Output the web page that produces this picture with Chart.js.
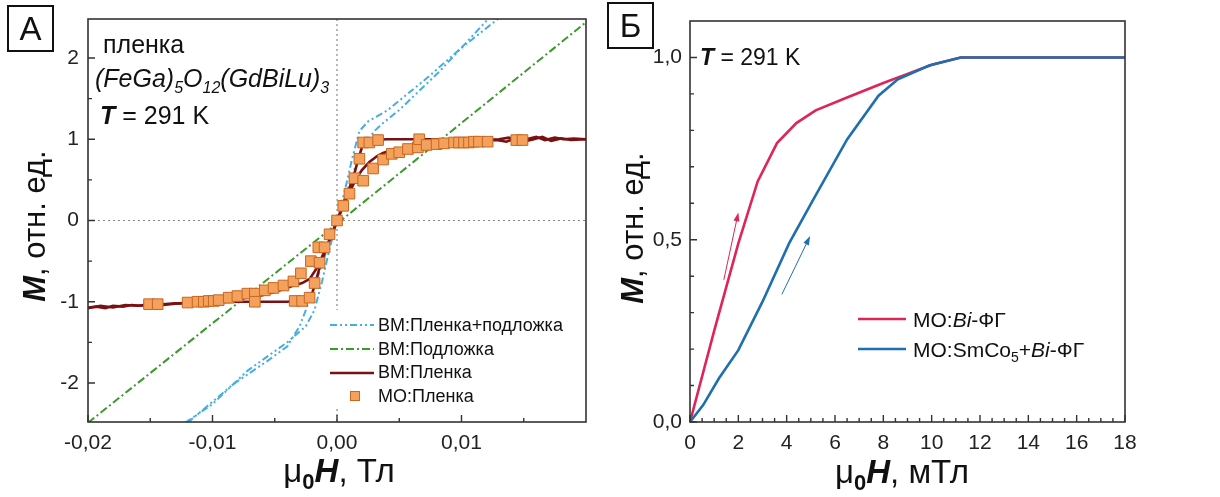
<!DOCTYPE html>
<html>
<head>
<meta charset="utf-8">
<script src="https://cdn.jsdelivr.net/npm/chart.js@4.4.1/dist/chart.umd.min.js"></script>
<style>
  html, body { margin: 0; padding: 0; background: #fff; }
  #wrap { position: relative; width: 1220px; height: 497px; }
  #chartA { position: absolute; left: 0; top: 0; }
  #chartB { position: absolute; left: 605px; top: 0; }
</style>
</head>
<body>
<div id="wrap">
  <canvas id="chartA" width="605" height="497"></canvas>
  <canvas id="chartB" width="615" height="497"></canvas>
</div>
<script>
const SANS = '"Liberation Sans", Arial, Helvetica, sans-serif';
const f = (size, style = '') => `${style} ${size}px ${SANS}`.trim();

// ---- panel A: hysteresis, field in T ----
const aTicksX = [-0.02, -0.01, 0, 0.01];
const aMinorX = [-0.015, -0.005, 0.005, 0.015];
const aTicksY = [-2, -1, 0, 1, 2];
const aMinorY = [-1.5, -0.5, 0.5, 1.5];

// film + substrate (VSM), two branches
const hFilmSub1 = [-0.0122, -0.01, -0.0072, -0.004, -0.0025, -0.0018, -0.0012, -0.0006, 0, 0.0006, 0.0012, 0.0018, 0.0025, 0.004, 0.0072, 0.0098, 0.013];
const mFilmSub1 = [-2.49, -2.26, -1.85, -1.5, -1.3, -1.1, -0.75, -0.35, 0, 0.35, 0.75, 1.1, 1.22, 1.35, 1.75, 2.1, 2.49];
const hFilmSub2 = [-0.012, -0.0083, -0.0056, -0.004, -0.003, -0.002, -0.001, 0, 0.001, 0.002, 0.003, 0.0037, 0.005, 0.0082, 0.0122];
const mFilmSub2 = [-2.49, -2.01, -1.73, -1.55, -1.3, -0.9, -0.45, 0, 0.45, 0.9, 1.1, 1.2, 1.36, 1.83, 2.49];

// substrate (VSM)
const hSubstrate = [-0.02, 0, 0.02];
const mSubstrate = [-2.49, -0.04, 2.44];

// film (VSM), sharp and rounded branches
const hFilm1 = [-0.02, -0.0193, -0.0186, -0.018, -0.0172, -0.0165, -0.0158, -0.015, -0.014, -0.013, -0.012, -0.01, -0.008, -0.006, -0.004, -0.003, -0.0024, -0.002, -0.0017, -0.0014, -0.001, -0.0005, 0, 0.0005, 0.001, 0.0014, 0.0017, 0.002, 0.0024, 0.003, 0.004, 0.006, 0.008, 0.01, 0.012, 0.013, 0.0138, 0.0145, 0.0152, 0.016, 0.0167, 0.0175, 0.0182, 0.019, 0.02];
const mFilm1 = [-1.07, -1.06, -1.08, -1.05, -1.06, -1.04, -1.05, -1.03, -1.03, -1.02, -1.02, -1.01, -1.0, -1.0, -1.0, -0.99, -0.97, -0.9, -0.75, -0.58, -0.4, -0.2, 0, 0.2, 0.4, 0.58, 0.75, 0.9, 0.97, 0.99, 1.0, 1.0, 1.0, 1.0, 0.99, 1.0, 1.02, 0.98, 1.0, 1.03, 0.99, 1.02, 1.0, 1.01, 1.0];
const hFilm2 = [-0.02, -0.019, -0.018, -0.017, -0.016, -0.015, -0.014, -0.012, -0.01, -0.008, -0.006, -0.005, -0.0042, -0.0035, -0.0028, -0.0022, -0.0016, -0.001, -0.0005, 0, 0.0005, 0.001, 0.0016, 0.002, 0.0026, 0.0032, 0.0037, 0.0045, 0.0056, 0.007, 0.0085, 0.01, 0.0115, 0.0128, 0.0136, 0.0143, 0.015, 0.0158, 0.0165, 0.0172, 0.018, 0.0188, 0.02];
const mFilm2 = [-1.08, -1.05, -1.07, -1.04, -1.05, -1.03, -1.04, -1.01, -1.0, -0.97, -0.92, -0.88, -0.84, -0.8, -0.77, -0.72, -0.58, -0.38, -0.2, -0.02, 0.18, 0.35, 0.53, 0.62, 0.72, 0.79, 0.83, 0.87, 0.9, 0.93, 0.95, 0.97, 0.98, 0.99, 0.97, 1.01, 0.97, 1.0, 1.03, 0.98, 1.01, 0.99, 1.0];

// film (magneto-optics), markers
const hMoFilm = [-0.0151, -0.0144, -0.012, -0.0112, -0.0107, -0.0103, -0.0099, -0.0095, -0.0087, -0.008, -0.0072, -0.0066, -0.0066, -0.0058, -0.0051, -0.0043, -0.0035, -0.0034, -0.0029, -0.0028, -0.0022, -0.0021, -0.0018, -0.0015, -0.0014, -0.001, -0.0006, 0, 0.0005, 0.001, 0.0014, 0.0018, 0.0021, 0.0021, 0.0026, 0.0029, 0.0033, 0.0037, 0.0044, 0.005, 0.0057, 0.0065, 0.0066, 0.0072, 0.008, 0.0086, 0.0094, 0.0098, 0.0102, 0.0106, 0.011, 0.0114, 0.0121, 0.0144, 0.0149];
const mMoFilm = [-1.03, -1.03, -1.01, -1.0, -1.0, -0.99, -0.99, -0.98, -0.95, -0.93, -0.9, -0.9, -1.0, -0.86, -0.83, -0.8, -0.75, -0.99, -0.65, -0.99, -0.95, -0.5, -0.77, -0.33, -0.52, -0.33, -0.17, 0, 0.18, 0.33, 0.52, 0.76, 0.96, 0.49, 0.96, 0.64, 0.99, 0.75, 0.82, 0.84, 0.88, 0.9, 1.0, 0.93, 0.94, 0.95, 0.96, 0.96, 0.96, 0.96, 0.97, 0.97, 0.97, 0.99, 0.99];

// ---- panel B: initial magnetisation, field in mT ----
const bTicksX = [0, 2, 4, 6, 8, 10, 12, 14, 16, 18];
const bMinorX = [0.5, 1, 1.5, 2.5, 3, 3.5, 4.5, 5, 5.5, 6.5, 7, 7.5, 8.5, 9, 9.5, 10.5, 11, 11.5, 12.5, 13, 13.5, 14.5, 15, 15.5, 16.5, 17, 17.5];
const bTicksY = [0, 0.5, 1.0];
const bMinorY = [0.1, 0.2, 0.3, 0.4, 0.6, 0.7, 0.8, 0.9];

const hBiFg = [0, 1, 2, 2.8, 3.6, 4.4, 5.2, 6.5, 8, 9, 10, 11.2, 18];
const mBiFg = [0, 0.25, 0.49, 0.66, 0.765, 0.82, 0.855, 0.89, 0.93, 0.955, 0.98, 1.0, 1.0];
const hSmCoBiFg = [0, 0.55, 1.2, 2, 3, 4.1, 5.1, 6.5, 7.8, 8.6, 9.9, 11.2, 18];
const mSmCoBiFg = [0, 0.047, 0.12, 0.197, 0.33, 0.49, 0.61, 0.775, 0.895, 0.94, 0.978, 1.0, 1.0];

// direction arrows, [h0, m0, h1, m1]
const arrowBiFg = [1.4, 0.39, 2.0, 0.575];
const arrowSmCo = [3.8, 0.35, 4.97, 0.51];

const C_LIGHTBLUE = '#46aee0';
const C_GREEN = '#3b9a2c';
const C_DARKRED = '#7a1012';
const C_ORANGE = '#f3a15c';
const C_ORANGE_EDGE = '#c9661f';
const C_CRIMSON = '#df2459';
const C_BLUE = '#1f6fae';
const DASH_DDOT = [7, 3, 2, 3, 2, 3];
const DASH_DOT = [8, 3, 2, 3];

const zip = (xs, ys) => xs.map((v, i) => ({ x: v, y: ys[i] }));

// draws a run of differently styled pieces of text; returns the width
function drawRuns(ctx, x, y, runs, align) {
  let w = 0;
  runs.forEach(r => { ctx.font = r[1]; w += ctx.measureText(r[0]).width; });
  let cx = align === 'center' ? x - w / 2 : x;
  runs.forEach(r => {
    ctx.font = r[1];
    ctx.fillText(r[0], cx, y + (r[2] || 0));
    cx += ctx.measureText(r[0]).width;
  });
  return w;
}

function drawFrame(chart, minorX, minorY) {
  const { ctx, chartArea: a, scales: { x, y } } = chart;
  ctx.save();
  ctx.strokeStyle = '#333';
  ctx.lineWidth = 1.6;
  ctx.strokeRect(a.left, a.top, a.right - a.left, a.bottom - a.top);
  ctx.lineWidth = 1.4;
  ctx.beginPath();
  x.ticks.forEach(t => { const p = x.getPixelForValue(t.value); ctx.moveTo(p, a.bottom); ctx.lineTo(p, a.bottom - 7); });
  minorX.forEach(v => { const p = x.getPixelForValue(v); ctx.moveTo(p, a.bottom); ctx.lineTo(p, a.bottom - 4); });
  y.ticks.forEach(t => { const p = y.getPixelForValue(t.value); ctx.moveTo(a.left, p); ctx.lineTo(a.left + 7, p); });
  minorY.forEach(v => { const p = y.getPixelForValue(v); ctx.moveTo(a.left, p); ctx.lineTo(a.left + 4, p); });
  ctx.stroke();
  ctx.restore();
}

function panelLabel(ctx, x, y, size, letter) {
  ctx.save();
  ctx.strokeStyle = '#111';
  ctx.lineWidth = 2;
  ctx.strokeRect(x, y, size, size);
  ctx.fillStyle = '#111';
  ctx.font = f(33);
  ctx.textAlign = 'center';
  ctx.textBaseline = 'middle';
  ctx.fillText(letter, x + size / 2, y + size / 2 + 2);
  ctx.restore();
}

function axisTitles(ctx, xc, xBase, yBase, yc, xRuns) {
  ctx.save();
  ctx.fillStyle = '#111';
  ctx.textBaseline = 'alphabetic';
  drawRuns(ctx, xc, xBase, xRuns, 'center');
  ctx.translate(yBase, yc);
  ctx.rotate(-Math.PI / 2);
  drawRuns(ctx, 0, 0, [['M', f(31, 'italic bold')], [', отн. ед.', f(31)]], 'center');
  ctx.restore();
}

function legendLine(ctx, x0, x1, y, color, width, dash) {
  ctx.save();
  ctx.strokeStyle = color;
  ctx.lineWidth = width;
  ctx.setLineDash(dash);
  ctx.beginPath();
  ctx.moveTo(x0, y);
  ctx.lineTo(x1, y);
  ctx.stroke();
  ctx.restore();
}

function arrow(chart, seg, color) {
  const { ctx, scales: { x, y } } = chart;
  const x0 = x.getPixelForValue(seg[0]), y0 = y.getPixelForValue(seg[1]);
  const x1 = x.getPixelForValue(seg[2]), y1 = y.getPixelForValue(seg[3]);
  const ang = Math.atan2(y1 - y0, x1 - x0);
  ctx.save();
  ctx.strokeStyle = color;
  ctx.fillStyle = color;
  ctx.lineWidth = 1;
  ctx.beginPath();
  ctx.moveTo(x0, y0);
  ctx.lineTo(x1 - 6 * Math.cos(ang), y1 - 6 * Math.sin(ang));
  ctx.stroke();
  ctx.beginPath();
  ctx.moveTo(x1, y1);
  ctx.lineTo(x1 - 9 * Math.cos(ang) + 3 * Math.sin(ang), y1 - 9 * Math.sin(ang) - 3 * Math.cos(ang));
  ctx.lineTo(x1 - 9 * Math.cos(ang) - 3 * Math.sin(ang), y1 - 9 * Math.sin(ang) + 3 * Math.cos(ang));
  ctx.closePath();
  ctx.fill();
  ctx.restore();
}

function axis(min, max, ticks, fmt, size, pad) {
  return {
    type: 'linear', min, max,
    grid: { display: false },
    border: { display: false },
    afterBuildTicks: s => { s.ticks = ticks.map(v => ({ value: v })); },
    ticks: { autoSkip: false, maxRotation: 0, color: '#222', font: { family: SANS, size: 21 }, padding: pad, callback: fmt },
    afterFit: s => { if (s.isHorizontal()) s.height = size; else s.width = size; }
  };
}

const lineSet = (label, xs, ys, color, width, dash) => ({
  label, data: zip(xs, ys), showLine: true, pointRadius: 0, borderColor: color,
  borderWidth: width, borderDash: dash, fill: false, tension: 0
});

const comma = (v, d) => v.toFixed(d).replace('.', ',');

const panelA = {
  id: 'panelA',
  beforeDatasetsDraw(chart) {
    const { ctx, chartArea: a, scales: { x, y } } = chart;
    ctx.save();
    ctx.strokeStyle = '#888';
    ctx.lineWidth = 1.2;
    ctx.setLineDash([2, 3]);
    ctx.beginPath();
    const x0 = x.getPixelForValue(0), y0 = y.getPixelForValue(0);
    ctx.moveTo(x0, a.top); ctx.lineTo(x0, a.bottom);
    ctx.moveTo(a.left, y0); ctx.lineTo(a.right, y0);
    ctx.stroke();
    ctx.restore();
  },
  afterDraw(chart) {
    const { ctx } = chart;
    // legend
    ctx.save();
    ctx.fillStyle = '#fff';
    ctx.fillRect(326, 310, 257, 99);
    legendLine(ctx, 330, 374, 325, C_LIGHTBLUE, 2, DASH_DDOT);
    legendLine(ctx, 330, 374, 349, C_GREEN, 2, DASH_DOT);
    legendLine(ctx, 330, 374, 373, C_DARKRED, 2.6, []);
    ctx.fillStyle = C_ORANGE;
    ctx.strokeStyle = C_ORANGE_EDGE;
    ctx.lineWidth = 1;
    ctx.fillRect(350.5, 391.5, 9, 9);
    ctx.strokeRect(350.5, 391.5, 9, 9);
    ctx.fillStyle = '#111';
    ctx.textBaseline = 'middle';
    ctx.font = f(18);
    ['ВМ:Пленка+подложка', 'ВМ:Подложка', 'ВМ:Пленка', 'МО:Пленка'].forEach((t, i) => {
      ctx.fillText(t, 378, 326 + i * 23.7);
    });
    ctx.restore();

    drawFrame(chart, aMinorX, aMinorY);

    // sample description
    ctx.save();
    ctx.fillStyle = '#111';
    ctx.textBaseline = 'alphabetic';
    drawRuns(ctx, 103, 53, [['пленка', f(25)]]);
    drawRuns(ctx, 95, 87, [
      ['(FeGa)', f(25, 'italic')], ['5', f(16, 'italic'), 6], ['O', f(25, 'italic')],
      ['12', f(16, 'italic'), 6], ['(GdBiLu)', f(25, 'italic')], ['3', f(16, 'italic'), 6]
    ]);
    drawRuns(ctx, 100, 124, [['T', f(25, 'italic bold')], [' = 291 K', f(25)]]);
    ctx.restore();

    axisTitles(ctx, 339, 482, 45, 226, [
      ['μ', f(33)], ['0', f(22, 'bold'), 7], ['H', f(33, 'italic bold')], [', Тл', f(33)]
    ]);
    panelLabel(ctx, 8, 6, 45, 'А');
  }
};

const panelB = {
  id: 'panelB',
  afterDraw(chart) {
    const { ctx } = chart;
    drawFrame(chart, bMinorX, bMinorY);
    arrow(chart, arrowBiFg, C_CRIMSON);
    arrow(chart, arrowSmCo, C_BLUE);

    ctx.save();
    ctx.fillStyle = '#111';
    ctx.textBaseline = 'alphabetic';
    drawRuns(ctx, 95, 65, [['T', f(23, 'italic bold')], [' = 291 K', f(23)]]);

    legendLine(ctx, 253, 301, 319, C_CRIMSON, 2.6, []);
    legendLine(ctx, 253, 301, 349, C_BLUE, 2.6, []);
    ctx.fillStyle = '#111';
    drawRuns(ctx, 308, 327, [['МО:', f(21)], ['Bi', f(21, 'italic')], ['-ФГ', f(21)]]);
    drawRuns(ctx, 308, 357, [
      ['МО:SmCo', f(21)], ['5', f(14), 5], ['+', f(21)], ['Bi', f(21, 'italic')], ['-ФГ', f(21)]
    ]);
    ctx.restore();

    axisTitles(ctx, 297, 483, 38, 228, [
      ['μ', f(33)], ['0', f(22, 'bold'), 7], ['H', f(33, 'italic bold')], [', мТл', f(33)]
    ]);
    panelLabel(ctx, 3, 3, 45, 'Б');
  }
};

new Chart(document.getElementById('chartA'), {
  type: 'scatter',
  data: {
    datasets: [
      {
        label: 'МО:Пленка', data: zip(hMoFilm, mMoFilm), pointStyle: 'rect', pointRadius: 7.5,
        backgroundColor: C_ORANGE, borderColor: C_ORANGE_EDGE, borderWidth: 1
      },
      lineSet('ВМ:Пленка', hFilm1, mFilm1, C_DARKRED, 2.6, []),
      lineSet('ВМ:Пленка', hFilm2, mFilm2, C_DARKRED, 2.6, []),
      lineSet('ВМ:Подложка', hSubstrate, mSubstrate, C_GREEN, 2, DASH_DOT),
      lineSet('ВМ:Пленка+подложка', hFilmSub1, mFilmSub1, C_LIGHTBLUE, 2, DASH_DDOT),
      lineSet('ВМ:Пленка+подложка', hFilmSub2, mFilmSub2, C_LIGHTBLUE, 2, DASH_DDOT)
    ]
  },
  options: {
    responsive: false,
    animation: false,
    layout: { padding: { left: 0, top: 19, right: 19, bottom: 0 } },
    plugins: { legend: { display: false }, tooltip: { enabled: false } },
    scales: {
      x: axis(-0.02, 0.02, aTicksX, v => comma(v, 2), 75, 1),
      y: axis(-2.48, 2.48, aTicksY, v => String(v), 88, 1)
    }
  },
  plugins: [panelA]
});

new Chart(document.getElementById('chartB'), {
  type: 'scatter',
  data: {
    datasets: [
      lineSet('МО:SmCo5+Bi-ФГ', hSmCoBiFg, mSmCoBiFg, C_BLUE, 2.6, []),
      lineSet('МО:Bi-ФГ', hBiFg, mBiFg, C_CRIMSON, 2.6, [])
    ]
  },
  options: {
    responsive: false,
    animation: false,
    layout: { padding: { left: 0, top: 21, right: 95, bottom: 0 } },
    plugins: { legend: { display: false }, tooltip: { enabled: false } },
    scales: {
      x: axis(0, 18, bTicksX, v => String(v), 75, 1),
      y: axis(0, 1.1, bTicksY, v => comma(v, 1), 85, 0)
    }
  },
  plugins: [panelB]
});
</script>
</body>
</html>
